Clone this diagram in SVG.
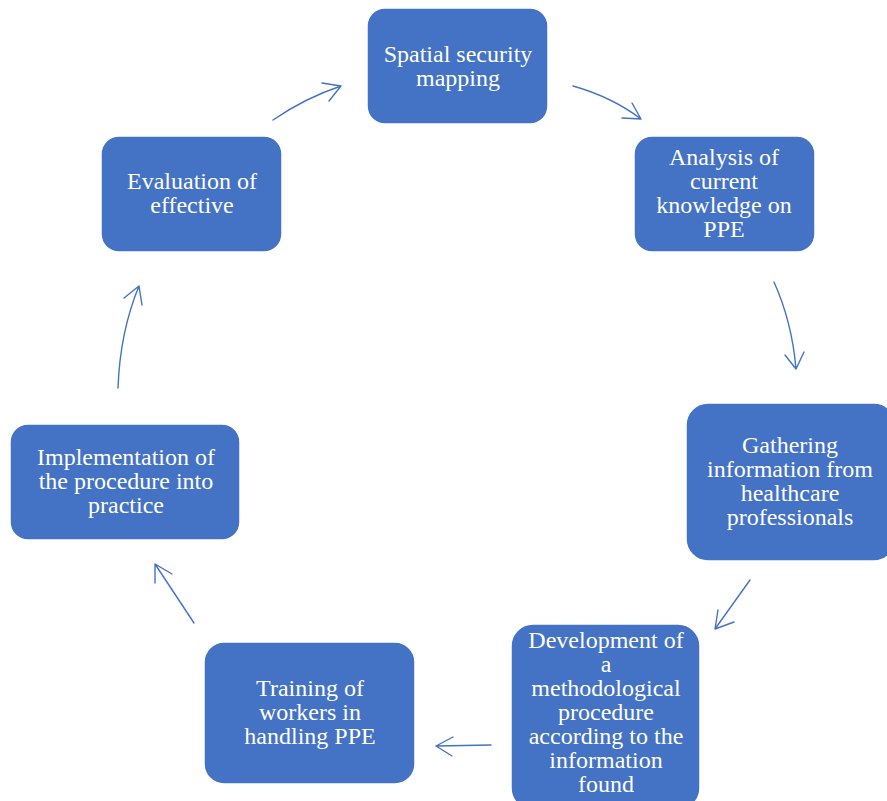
<svg xmlns="http://www.w3.org/2000/svg" width="887" height="801" viewBox="0 0 887 801">
  <style>
    .box { fill: #4472C4; stroke: #ffffff; stroke-width: 1.5; }
    .lbl { font-family: 'Liberation Serif', 'DejaVu Serif', serif; font-size: 24px; fill: #ffffff; text-anchor: middle; }
    .arr { fill: none; stroke: #4472C4; stroke-width: 1.4; stroke-linecap: round; stroke-linejoin: round; }
  </style>
  <rect width="887" height="801" fill="#ffffff"/>

  <g id="node-mapping">
    <rect class="box" x="367" y="8" width="181" height="116" rx="18"/>
    <text class="lbl" x="458" y="62">Spatial security</text>
    <text class="lbl" x="458" y="86">mapping</text>
  </g>
  <g id="node-analysis">
    <rect class="box" x="634" y="136" width="181" height="116" rx="18"/>
    <text class="lbl" x="724" y="165">Analysis of</text>
    <text class="lbl" x="724" y="189">current</text>
    <text class="lbl" x="724" y="213">knowledge on</text>
    <text class="lbl" x="724" y="237">PPE</text>
  </g>
  <g id="node-gathering">
    <rect class="box" x="686" y="403" width="210" height="158" rx="22"/>
    <text class="lbl" x="790" y="453">Gathering</text>
    <text class="lbl" x="790" y="477">information from</text>
    <text class="lbl" x="790" y="501">healthcare</text>
    <text class="lbl" x="790" y="525">professionals</text>
  </g>
  <g id="node-development">
    <rect class="box" x="511" y="624" width="189" height="186" rx="22"/>
    <text class="lbl" x="606" y="648">Development of</text>
    <text class="lbl" x="606" y="672">a</text>
    <text class="lbl" x="606" y="696">methodological</text>
    <text class="lbl" x="606" y="720">procedure</text>
    <text class="lbl" x="606" y="744">according to the</text>
    <text class="lbl" x="606" y="768">information</text>
    <text class="lbl" x="606" y="792">found</text>
  </g>
  <g id="node-training">
    <rect class="box" x="204" y="642" width="211" height="142" rx="20"/>
    <text class="lbl" x="310" y="696">Training of</text>
    <text class="lbl" x="310" y="720">workers in</text>
    <text class="lbl" x="310" y="744">handling PPE</text>
  </g>
  <g id="node-implementation">
    <rect class="box" x="10" y="424" width="230" height="116" rx="18"/>
    <text class="lbl" x="126" y="465">Implementation of</text>
    <text class="lbl" x="126" y="489">the procedure into</text>
    <text class="lbl" x="126" y="513">practice</text>
  </g>
  <g id="node-evaluation">
    <rect class="box" x="101" y="136" width="181" height="116" rx="18"/>
    <text class="lbl" x="192" y="189">Evaluation of</text>
    <text class="lbl" x="192" y="213">effective</text>
  </g>

  <g id="connectors">
    <path class="arr" d="M273,120 Q305,98 341,86 M322,83 L341,86 L329,101"/>
    <path class="arr" d="M573,86 Q612,97 641,119 M632,103 L641,119 L622,118"/>
    <path class="arr" d="M774,282 Q792,322 796,369 M785,355 L796,369 L804,352"/>
    <path class="arr" d="M750,580 L715,629 M718,610 L715,629 L734,622"/>
    <path class="arr" d="M491,745 L436,746 M453,737 L436,746 L452,756"/>
    <path class="arr" d="M194,623 L155,564 M155,583 L155,564 L172,574"/>
    <path class="arr" d="M118,388 Q120,332 139,286 M124,298 L139,286 L142,305"/>
  </g>
</svg>
